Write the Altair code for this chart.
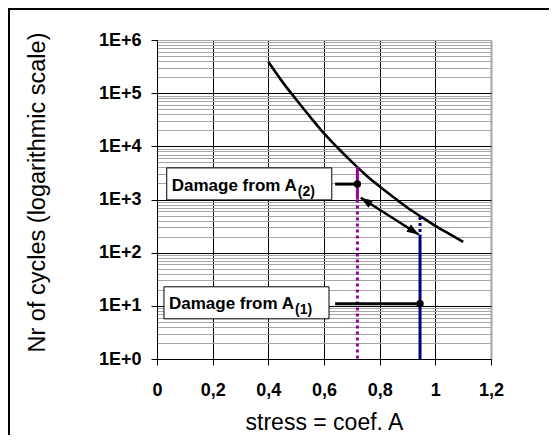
import altair as alt
import pandas as pd

FONT = "Liberation Sans"

# ---- data ----
stress = [0.40, 0.45, 0.50, 0.55, 0.60, 0.65, 0.70, 0.75, 0.80, 0.85, 0.90, 0.95, 1.00, 1.05, 1.10]
cycles = [3.9e5, 1.65e5, 7.6e4, 3.6e4, 1.75e4, 9.3e3, 5.1e3, 2.9e3, 1.75e3, 1.1e3, 700, 470, 320, 225, 160]

# vertical load lines (A(2) purple, A(1) blue)
a2_x = 0.72
a2_solid = [4.1e3, 1.0e3]
a2_dotted = [1.0e3, 1]
a1_x = 0.945
a1_dotted = [470, 220]
a1_solid = [220, 1]

# damage markers and their connectors
marker_x = [0.72, 0.945]
marker_y = [1.95e3, 11]
connector_start = [0.64, 0.64]

# double arrow between the two lines
arrow_x = [0.732, 0.94]
arrow_y = [1080, 220]
arrow_angle = [302.4, 122.4]

# annotation boxes
box_x0 = [0.035, 0.025]
box_x1 = [0.628, 0.618]
box_y0 = [3.93e3, 22.8]
box_y1 = [982, 5.7]
label_x = [0.053, 0.043]
label_y = [1.47e3, 8.6]
label_main = ["Damage from A", "Damage from A"]
label_sub = ["(2)", "(1)"]

# axes
x_ticks = [0, 0.2, 0.4, 0.6, 0.8, 1.0, 1.2]
y_decades = [1, 10, 100, 1000, 10000, 100000, 1000000]
y_minor_mult = [2, 3, 4, 5, 6, 7, 8, 9]
y_values = sorted(set(y_decades + [d * m for d in y_decades[:-1] for m in y_minor_mult]))

DEC = "abs(log(datum.value)/LN10 - round(log(datum.value)/LN10)) < 0.001"

xscale = alt.Scale(domain=[0, 1.2], nice=False, zero=False)
yscale = alt.Scale(type="log", domain=[1, 1e6], nice=False)

xaxis = alt.Axis(
    values=x_ticks,
    labelExpr="replace(format(datum.value, '.1~f'), '.', ',')",
    grid=True,
    gridColor={"condition": {"test": "datum.value > 1.1", "value": "#a6a6a6"}, "value": "black"},
    gridWidth={"condition": {"test": "datum.value > 1.1", "value": 2}, "value": 1},
    tickSize=6, tickColor="black", tickWidth=1,
    domainColor="black", domainWidth=1,
    labelFont=FONT, labelFontSize=18, labelFontWeight="bold", labelColor="black",
    labelPadding=16, labelOverlap=False, labelFlush=False,
    title="stress = coef. A", titleFont=FONT, titleFontSize=23, titleFontWeight="normal",
    titleColor="black", titleY=70.5, titleBaseline="alphabetic",
)

yaxis = alt.Axis(
    values=y_values,
    labelExpr=f"({DEC}) ? '1E+' + round(log(datum.value)/LN10) : ''",
    grid=True,
    gridColor={"condition": {"test": f"({DEC}) && datum.value < 999999", "value": "black"}, "value": "#a6a6a6"},
    gridWidth=1,
    tickOpacity={"condition": {"test": DEC, "value": 1}, "value": 0},
    tickSize=6, tickColor="black", tickWidth=1,
    domainColor="black", domainWidth=1,
    labelFont=FONT, labelFontSize=18, labelFontWeight="bold", labelColor="black",
    labelPadding=10, labelOverlap=False, labelFlush=False, labelBound=False,
    title="Nr of cycles (logarithmic scale)", titleFont=FONT, titleFontSize=23.5,
    titleFontWeight="normal", titleColor="black", titleAngle=270, titleX=-113,
    titleY=152, titleAlign="center", titleBaseline="alphabetic",
)

X = alt.X("x:Q", scale=xscale, axis=xaxis)
Y = alt.Y("y:Q", scale=yscale, axis=yaxis)

# ---- layers ----
curve_df = pd.DataFrame({"x": stress, "y": cycles})
curve = alt.Chart(curve_df).mark_line(color="black", strokeWidth=2.6, interpolate="monotone").encode(x=X, y=Y)

def vline(xv, ys, color, dash=None, width=3):
    df = pd.DataFrame({"x": [xv], "y": [ys[0]], "y2": [ys[1]]})
    kw = dict(color=color, strokeWidth=width)
    if dash:
        kw["strokeDash"] = dash
    return alt.Chart(df).mark_rule(**kw).encode(x=X, y=Y, y2="y2:Q")

purple = "#990099"
navy = "#000080"
p_solid = vline(a2_x, a2_solid, purple)
p_dot = vline(a2_x, a2_dotted, purple, dash=[3, 3])
b_dot = vline(a1_x, a1_dotted, navy, dash=[3, 3])
b_solid = vline(a1_x, a1_solid, navy)

box_df = pd.DataFrame({"x": box_x0, "x2": box_x1, "y": box_y0, "y2": box_y1})
boxes = alt.Chart(box_df).mark_rect(fill="white", stroke="black", strokeWidth=1).encode(
    x=X, x2="x2:Q", y=Y, y2="y2:Q")

conn_df = pd.DataFrame({"x": connector_start, "x2": marker_x, "y": marker_y})
connectors = alt.Chart(conn_df).mark_rule(color="black", strokeWidth=3).encode(x=X, x2="x2:Q", y=Y)

shaft_df = pd.DataFrame({"x": arrow_x, "y": arrow_y})
shaft = alt.Chart(shaft_df).mark_line(color="black", strokeWidth=2.5).encode(x=X, y=Y)

head_df = pd.DataFrame({"x": arrow_x, "y": arrow_y, "angle": arrow_angle})
heads = alt.Chart(head_df).mark_point(
    shape="M0,0L-0.36,1L0.36,1Z", filled=True, color="black", size=560, opacity=1
).encode(x=X, y=Y, angle=alt.Angle("angle:Q", scale=None))

mark_df = pd.DataFrame({"x": marker_x, "y": marker_y})
markers = alt.Chart(mark_df).mark_circle(color="black", size=55, opacity=1).encode(x=X, y=Y)

lab_df = pd.DataFrame({"x": label_x, "y": label_y, "t": label_main, "s": label_sub})
labels = alt.Chart(lab_df).mark_text(
    font=FONT, fontSize=17, fontWeight="bold", align="left", baseline="alphabetic", color="black"
).encode(x=X, y=Y, text="t:N")
subs = alt.Chart(lab_df).mark_text(
    font=FONT, fontSize=14, fontWeight="bold", align="left", baseline="alphabetic",
    color="black", dx=126, dy=5
).encode(x=X, y=Y, text="s:N")

frame_df = pd.DataFrame({"k": [0]})
frame_left = alt.Chart(frame_df).mark_rule(color="black", strokeWidth=2).encode(
    x=alt.value(-148), y=alt.value(-32), y2=alt.value(395))
frame_top = alt.Chart(frame_df).mark_rule(color="black", strokeWidth=2).encode(
    x=alt.value(-149), x2=alt.value(392), y=alt.value(-31))

chart = alt.layer(
    curve, p_solid, p_dot, b_dot, b_solid, boxes, connectors, shaft, heads, markers,
    labels, subs, frame_left, frame_top
).properties(
    width=334, height=319,
    padding={"left": 149, "top": 32, "right": 58, "bottom": 76},
    autosize=alt.AutoSizeParams(type="none"),
).configure_view(strokeWidth=0).configure(background="white")

chart.save("out.html", embed_options={"renderer": "svg", "actions": False})
